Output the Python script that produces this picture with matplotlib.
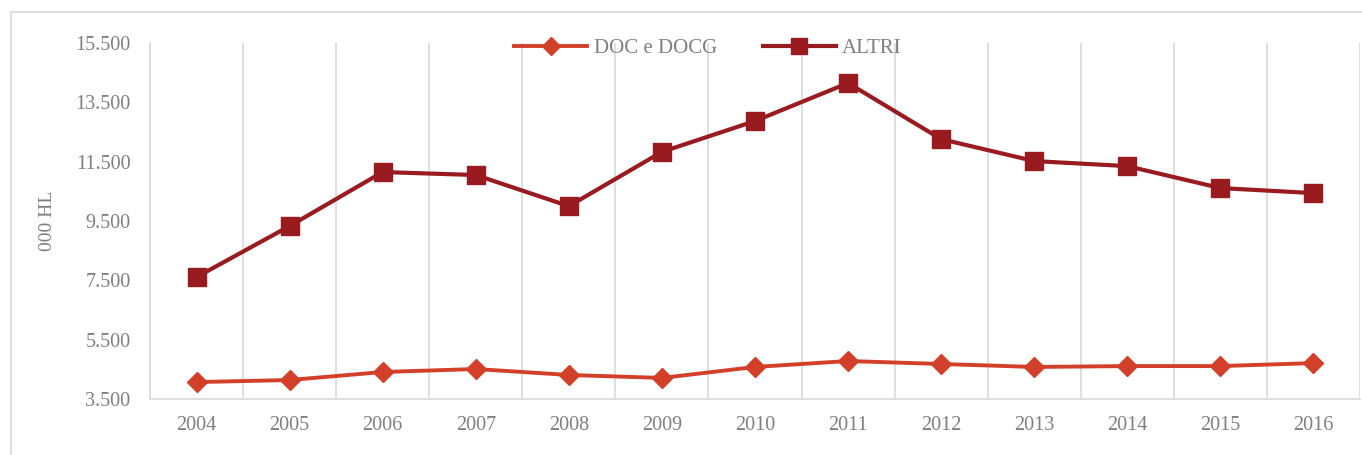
import matplotlib.pyplot as plt
from matplotlib.patches import Rectangle
from matplotlib.ticker import FuncFormatter

# ============================================================
# DATA (000 HL)
# ============================================================
years = ['2004', '2005', '2006', '2007', '2008', '2009', '2010',
         '2011', '2012', '2013', '2014', '2015', '2016']
doc_docg = [4070, 4140, 4410, 4510, 4310, 4210, 4580,
            4780, 4680, 4580, 4610, 4610, 4710]
altri = [7610, 9330, 11150, 11050, 10000, 11830, 12870,
         14150, 12260, 11520, 11350, 10610, 10440]
y_ticks = [3500, 5500, 7500, 9500, 11500, 13500, 15500]

# ============================================================
# STYLE
# ============================================================
plt.rcParams['font.family'] = ['Liberation Serif', 'DejaVu Serif']
grey_txt = '#7f7f7f'
grid_col = '#d9d9d9'
col_doc = '#d2402a'
col_altri = '#9a1b1f'

fig = plt.figure(figsize=(13.62, 4.55), dpi=100)
ax = fig.add_axes([150 / 1362, 1 - 399 / 455, 1210 / 1362, 356 / 455])

# outer chart border
fig.patches.append(Rectangle((11 / 1362, -0.1), 1.2, 1 - 12 / 455 + 0.1,
                             transform=fig.transFigure, fill=False,
                             edgecolor=grid_col, lw=1.2))

x = list(range(len(years)))
ax.plot(x, doc_docg, color=col_doc, lw=2.8, marker='D', ms=10,
        label='DOC e DOCG', zorder=3)
ax.plot(x, altri, color=col_altri, lw=3.0, marker='s', ms=12.5,
        label='ALTRI', zorder=3)

ax.set_xlim(-0.5, len(years) - 0.5)
ax.set_ylim(y_ticks[0], y_ticks[-1])
ax.set_yticks(y_ticks)
ax.yaxis.set_major_formatter(FuncFormatter(lambda v, p: f'{int(v):,}'.replace(',', '.')))

ax.set_xticks(x)
ax.set_xticklabels(years)
ax.set_xticks([i - 0.5 for i in range(len(years) + 1)], minor=True)
ax.grid(True, which='minor', axis='x', color=grid_col, lw=1.2)
ax.tick_params(which='both', length=0)
ax.tick_params(axis='y', labelsize=14.5, labelcolor=grey_txt, pad=14)
ax.tick_params(axis='x', labelsize=14.5, labelcolor=grey_txt, pad=12)

for side in ['top', 'right']:
    ax.spines[side].set_visible(False)
for side in ['left', 'bottom']:
    ax.spines[side].set_color(grid_col)
    ax.spines[side].set_linewidth(1.2)

ax.set_ylabel('000 HL', color=grey_txt, fontsize=14, labelpad=14)

leg = ax.legend(loc='upper center', bbox_to_anchor=(708 / 1362, 1 - 30 / 455),
                bbox_transform=fig.transFigure, ncol=2, frameon=False,
                fontsize=15, handlelength=3.5, columnspacing=2.2,
                handletextpad=0.3, borderaxespad=0, markerscale=0.9)
for t in leg.get_texts():
    t.set_color(grey_txt)

plt.savefig('out.png', dpi=100)
